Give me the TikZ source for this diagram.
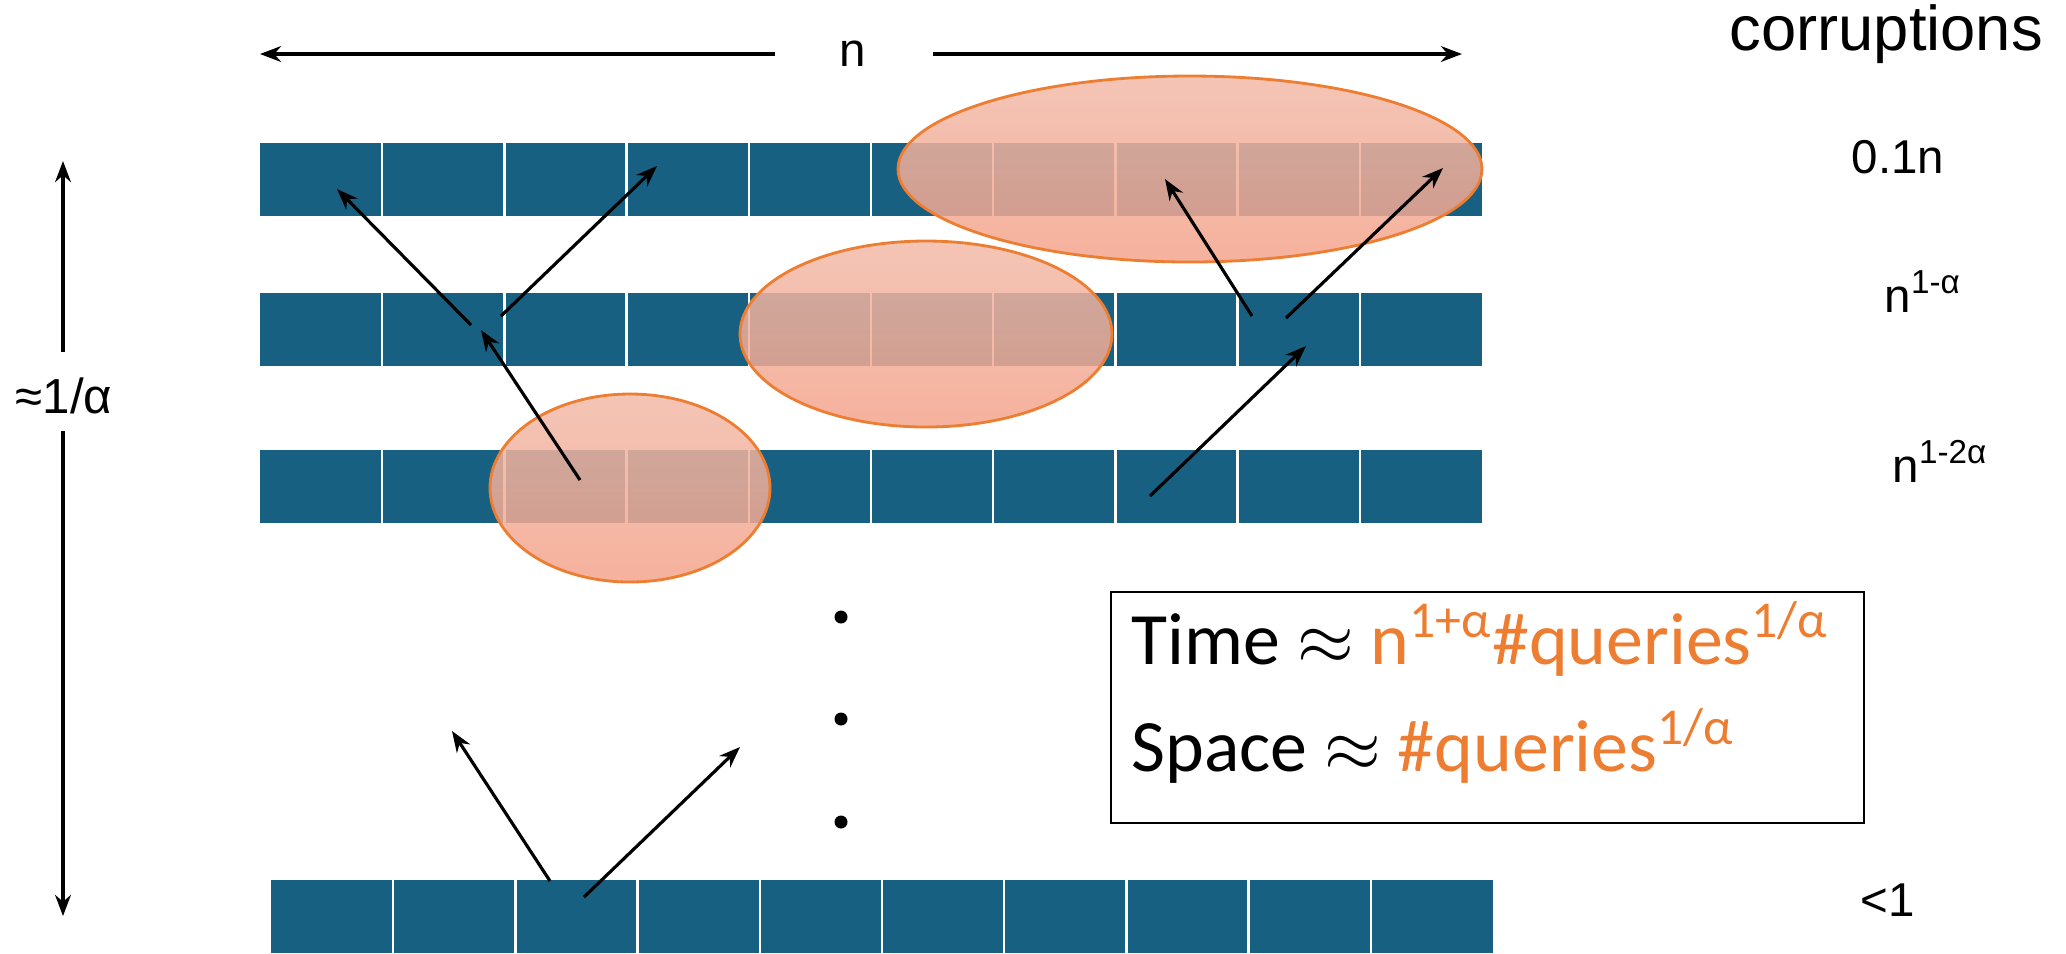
\documentclass[tikz,border=0pt]{standalone}
\usepackage{fontspec}
\setmainfont{Liberation Sans}
\newfontfamily\boxfont{Carlito}
\usetikzlibrary{arrows.meta}

\definecolor{cellblue}{RGB}{24,96,130}
\definecolor{corrorange}{RGB}{237,125,49}
\definecolor{corrtop}{RGB}{242,186,168}
\definecolor{corrbot}{RGB}{243,164,140}

\begin{document}
\begin{tikzpicture}[x=0.01cm, y=-0.01cm, >={Stealth[length=6pt,width=4.5pt]},
  lvl/.style={fill=cellblue},
  sep/.style={white, line width=0.7pt},
  corr/.style={draw=corrorange, line width=0.8pt, top color=corrtop, bottom color=corrbot, fill opacity=0.85},
  jump/.style={->, line width=0.9pt},
  lbl/.style={font=\fontsize{13.5}{16}\selectfont, anchor=base west, inner sep=0pt},
  costline/.style={font=\boxfont\fontsize{21}{25}\selectfont, anchor=base west, inner sep=0pt}]
  \useasboundingbox (0,0) rectangle (2066,953);

  % levels of the structure
  \foreach \x/\y in {260/143, 260/293, 260/450, 271/880} {
    \fill[lvl] (\x,\y) rectangle ++(1222,73);
    \foreach \k in {1,...,9}
      \draw[sep] (\x+\k*122.2,\y) -- ++(0,73);
  }

  % corrupted regions
  \shadedraw[corr] (1190,169) ellipse [x radius=292, y radius=93];
  \shadedraw[corr] (926,334) ellipse [x radius=186, y radius=93];
  \shadedraw[corr] (630,488) ellipse [x radius=140, y radius=94];

  % queries between levels
  \coordinate (qa0) at (471,325);  \coordinate (qa1) at (337,189);
  \coordinate (qb0) at (501,316);  \coordinate (qb1) at (657,166);
  \coordinate (qc0) at (580,480);  \coordinate (qc1) at (481,330);
  \coordinate (qd0) at (1252,316); \coordinate (qd1) at (1165,179);
  \coordinate (qe0) at (1286,318); \coordinate (qe1) at (1443,168);
  \coordinate (qf0) at (1150,496); \coordinate (qf1) at (1306,346);
  \coordinate (qg0) at (550,881);  \coordinate (qg1) at (452,731);
  \coordinate (qh0) at (584,897);  \coordinate (qh1) at (740,747);
  \foreach \q in {a,b,c,d,e,f,g,h}
    \draw[jump] (q\q0) -- (q\q1);

  % width n
  \node[font=\fontsize{13.5}{16}\selectfont] (nlab) at (853,54) {n};
  \coordinate (nL0) at (775,54); \coordinate (nL1) at (260,54);
  \coordinate (nR0) at (933,54); \coordinate (nR1) at (1462,54);
  \draw[jump] (nL0) -- (nL1);
  \draw[jump] (nR0) -- (nR1);

  % depth
  \node[font=\fontsize{14}{16}\selectfont] (depth) at (64,396) {≈1/α};
  \coordinate (dU0) at (63,352); \coordinate (dU1) at (63,161);
  \coordinate (dD0) at (63,431); \coordinate (dD1) at (63,916);
  \draw[jump] (dU0) -- (dU1);
  \draw[jump] (dD0) -- (dD1);

  % dots
  \foreach \y in {617,719,822}
    \fill (841,\y) circle [radius=6.5];

  % corruptions per level
  \node[lbl, font=\fontsize{18}{20}\selectfont] (corrhead) at (1729,50) {corruptions};
  \node[lbl] (c1) at (1851,173) {0.1n};
  \node[lbl] (c2) at (1884,312) {n\textsuperscript{1-α}};
  \node[lbl] (c3) at (1892,482) {n\textsuperscript{1-2α}};
  \node[lbl] (c4) at (1860,916) {<1};

  % cost box
  \draw[line width=0.8pt] (1111,592) rectangle (1864,823);
  \node[costline] (timeline) at (1131,664)
    {Time $\approx$ \textcolor{corrorange}{n\textsuperscript{1+α}\#queries\textsuperscript{1/α}}};
  \node[costline] (spaceline) at (1131,771)
    {Space $\approx$ \textcolor{corrorange}{\#queries\textsuperscript{1/α}}};
\end{tikzpicture}
\end{document}
